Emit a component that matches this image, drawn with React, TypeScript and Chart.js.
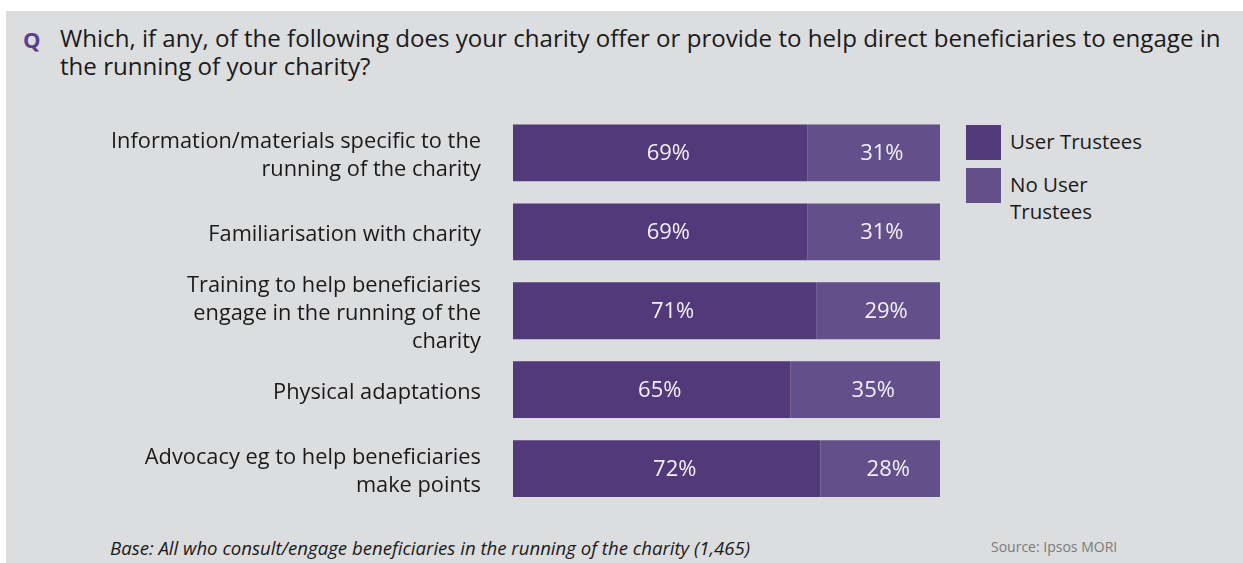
import React, { useEffect, useRef } from "react";
import { Chart, registerables } from "chart.js";

Chart.register(...registerables);

const CATEGORIES: string[][] = [
  ["Information/materials specific to the", "running of the charity"],
  ["Familiarisation with charity"],
  ["Training to help beneficiaries", "engage in the running of the", "charity"],
  ["Physical adaptations"],
  ["Advocacy eg to help beneficiaries", "make points"],
];
const USER_TRUSTEES = [69, 69, 71, 65, 72];
const NO_USER_TRUSTEES = [31, 31, 29, 35, 28];
const SERIES_LABELS = ["User Trustees", "No User Trustees"];
const LEGEND_LINES = [["User Trustees"], ["No User", "Trustees"]];
const COLORS = ["#52397a", "#634f8a"];
const TITLE_Q = "Q";
const TITLE_LINES = [
  "Which, if any, of the following does your charity offer or provide to help direct beneficiaries to engage in",
  "the running of your charity?",
];
const BASE_NOTE = "Base: All who consult/engage beneficiaries in the running of the charity (1,465)";
const SOURCE_NOTE = "Source: Ipsos MORI";

const FONT = "'Open Sans', sans-serif";

const valueLabels = {
  id: "valueLabels",
  afterDatasetsDraw(chart: any) {
    const ctx = chart.ctx;
    ctx.save();
    ctx.fillStyle = "#f2f0f6";
    ctx.font = `22px ${FONT}`;
    ctx.textAlign = "center";
    ctx.textBaseline = "middle";
    chart.data.datasets.forEach((ds: any, di: number) => {
      const meta = chart.getDatasetMeta(di);
      meta.data.forEach((el: any, i: number) => {
        const cx = (el.x + el.base) / 2 + 8;
        ctx.fillText(`${ds.data[i]}%`, cx, el.y + 1);
      });
    });
    ctx.restore();
  },
};

export default function App() {
  const ref = useRef<HTMLCanvasElement>(null);
  useEffect(() => {
    if (!ref.current) return;
    const chart = new Chart(ref.current, {
      type: "bar",
      data: {
        labels: CATEGORIES,
        datasets: [
          { label: SERIES_LABELS[0], data: USER_TRUSTEES, backgroundColor: COLORS[0] },
          { label: SERIES_LABELS[1], data: NO_USER_TRUSTEES, backgroundColor: COLORS[1] },
        ],
      },
      options: {
        indexAxis: "y",
        animation: false,
        responsive: false,
        maintainAspectRatio: false,
        datasets: { bar: { barPercentage: 0.72, categoryPercentage: 1 } },
        layout: { padding: { top: 13.5, bottom: 12, right: 20, left: 0 } },
        plugins: { legend: { display: false }, tooltip: { enabled: false } },
        scales: {
          x: { display: false, stacked: true, min: 0, max: 100 },
          y: {
            stacked: true,
            border: { display: false },
            grid: { display: false, drawTicks: false },
            ticks: {
              autoSkip: false,
              padding: 32,
              labelOffset: 3,
              color: "#1a1a1a",
              font: { size: 21.8, family: FONT, lineHeight: 1.29 },
            },
            afterFit(scale: any) {
              scale.width = 513;
              scale.paddingTop = 0;
              scale.paddingBottom = 0;
            },
          },
        },
      },
      plugins: [valueLabels],
    } as any);
    return () => chart.destroy();
  }, []);

  return (
    <div style={{ position: "absolute", left: 0, top: 0, width: 1243, height: 563, background: "#fff", fontFamily: FONT, overflow: "hidden" }}>
      <div style={{ position: "absolute", left: 6, top: 11, width: 1237, height: 552, background: "#dcdddf" }} />
      <div style={{ position: "absolute", left: 23, top: 25, fontSize: 22, fontWeight: 700, color: "#5b3f8c", lineHeight: "28px" }}>{TITLE_Q}</div>
      <div style={{ position: "absolute", left: 60, top: 24, fontSize: 24.1, color: "#1a1a1a", lineHeight: "28px", whiteSpace: "nowrap" }}>
        {TITLE_LINES.map((l, i) => (<div key={i}>{l}</div>))}
      </div>
      <canvas ref={ref} width={960} height={420} style={{ position: "absolute", left: 0, top: 100, width: 960, height: 420 }} />
      {LEGEND_LINES.map((lines, i) => (
        <div key={i} style={{ position: "absolute", left: 966, top: i === 0 ? 125 : 168, display: "flex", alignItems: "flex-start" }}>
          <div style={{ width: 35, height: 35, background: COLORS[i] }} />
          <div style={{ marginLeft: 9, marginTop: 3, fontSize: 20.5, lineHeight: "27px", color: "#1a1a1a" }}>
            {lines.map((l, j) => (<div key={j}>{l}</div>))}
          </div>
        </div>
      ))}
      <div style={{ position: "absolute", left: 110, top: 535, fontSize: 18.6, fontStyle: "italic", color: "#1a1a1a", whiteSpace: "nowrap" }}>{BASE_NOTE}</div>
      <div style={{ position: "absolute", left: 991, top: 537, fontSize: 14, color: "#7a7a7a", whiteSpace: "nowrap" }}>{SOURCE_NOTE}</div>
    </div>
  );
}
